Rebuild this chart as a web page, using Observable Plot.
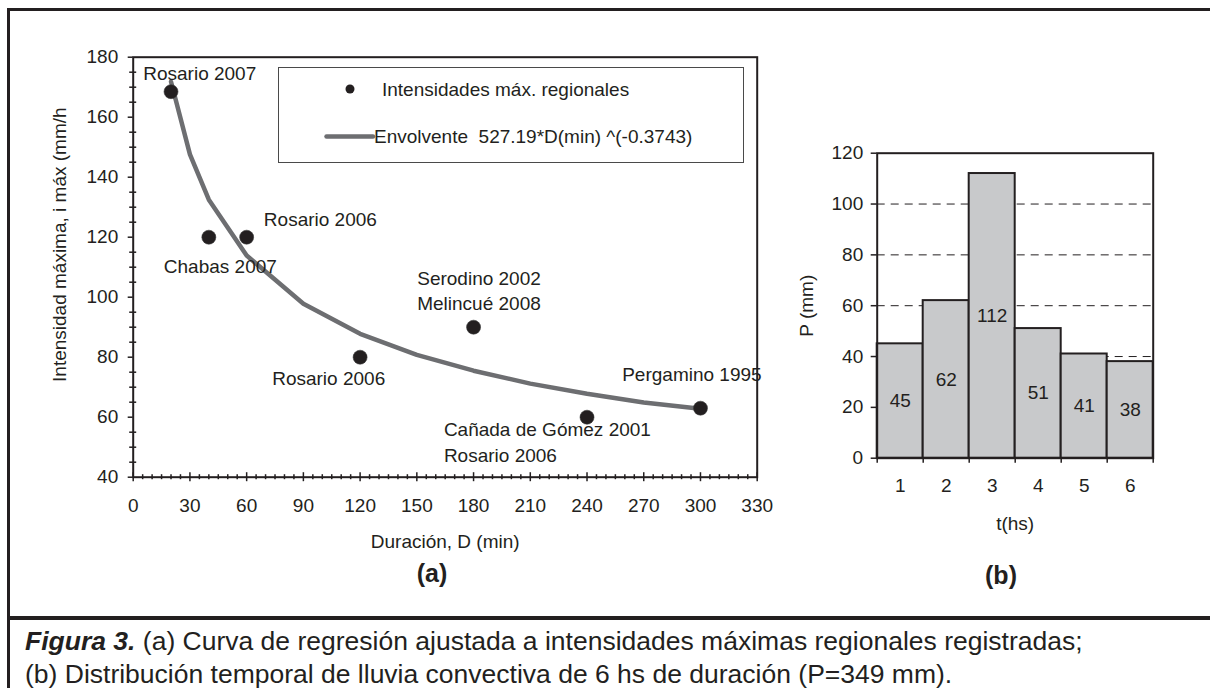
<!DOCTYPE html>
<html>
<head>
<meta charset="utf-8">
<script src="https://cdn.jsdelivr.net/npm/d3@7"></script>
<script src="https://cdn.jsdelivr.net/npm/@observablehq/plot@0.6"></script>
<style>
  body { margin: 0; background: #fff; }
  #root { position: relative; width: 1210px; height: 688px; overflow: hidden; background: #fff;
          font-family: "Liberation Sans", Arial, sans-serif; color: #231f20; }
  .abs { position: absolute; }
  .bar { position: absolute; background: #231f20; }
  .plab { position: absolute; font-weight: bold; font-size: 25px; transform: translate(-50%, -50%); white-space: nowrap; }
</style>
</head>
<body>
<div id="root">
  <div class="bar" style="left:7px;top:8px;width:1203px;height:3px;"></div>
  <div class="bar" style="left:7px;top:8px;width:2.5px;height:680px;"></div>
  <div class="bar" style="left:7px;top:616px;width:1203px;height:4px;"></div>
  <div id="chartA" class="abs" style="left:0;top:0;"></div>
  <div id="chartB" class="abs" style="left:780px;top:0;"></div>
  <div id="legend" class="abs" style="left:278px;top:67px;width:466px;height:96px;border:1.5px solid #4a4a4a;background:#fff;box-sizing:border-box;">
    <svg width="466" height="96" style="position:absolute;left:-1.5px;top:-1.5px;overflow:visible">
      <circle cx="72" cy="22" r="4.5" fill="#231f20"></circle>
      <line x1="48.5" y1="69.5" x2="95" y2="69.5" stroke="#6d6e71" stroke-width="4.5" stroke-linecap="round"></line>
    </svg>
    <div class="abs" style="left:103px;top:10px;font-size:19px;line-height:24px;white-space:pre;">Intensidades máx. regionales</div>
    <div class="abs" style="left:95px;top:57px;font-size:19px;line-height:24px;white-space:pre;">Envolvente  527.19*D(min) ^(-0.3743)</div>
  </div>
  <div class="plab" style="left:432px;top:573px;">(a)</div>
  <div class="plab" style="left:1001px;top:575px;">(b)</div>
  <div class="abs" style="left:25px;top:625px;font-size:26.5px;line-height:33px;white-space:nowrap;">
    <b><i>Figura 3.</i></b> (a) Curva de regresión ajustada a intensidades máximas regionales registradas;<br>(b) Distribución temporal de lluvia convectiva de 6 hs de duración (P=349 mm).
  </div>
</div>
<script>
// ---------- Data: chart (a) ----------
const xTicks = [0, 30, 60, 90, 120, 150, 180, 210, 240, 270, 300, 330];
const yTicks = [40, 60, 80, 100, 120, 140, 160, 180];
const pointD = [20, 40, 60, 120, 180, 240, 300];
const pointI = [168.5, 120, 120, 80, 90, 60, 63];
const curveD = [20, 30, 40, 60, 90, 120, 150, 180, 210, 240, 270, 300];
const curveI = [171.8, 147.6, 132.5, 113.9, 97.8, 87.8, 80.8, 75.5, 71.2, 67.8, 64.9, 62.8];
const labelText = ["Rosario 2007", "Rosario 2006", "Chabas 2007", "Rosario 2006", "Serodino 2002",
                   "Melincué 2008", "Pergamino 1995", "Cañada de Gómez 2001", "Rosario 2006"];
const labelD = [5.3, 69.1, 16.2, 73.5, 150.2, 150.2, 258.6, 164.3, 164.3];
const labelI = [174.5, 125.6, 110, 72.8, 106.1, 97.6, 74.2, 55.6, 47];
const xTitleA = "Duración, D (min)";
const yTitleA = "Intensidad máxima, i máx (mm/h";

// ---------- Data: chart (b) ----------
const hours = [1, 2, 3, 4, 5, 6];
const rain = [45, 62, 112, 51, 41, 38];
const bYTicks = [0, 20, 40, 60, 80, 100, 120];
const bGrid = [20, 40, 60, 80, 100];
const xTitleB = "t(hs)";
const yTitleB = "P (mm)";

const INK = "#231f20";
const font = {fontFamily: "'Liberation Sans', Arial, sans-serif", fontSize: "19px", color: INK, background: "transparent", overflow: "visible"};

const points = pointD.map((d, i) => ({d, v: pointI[i]}));
const curve = curveD.map((d, i) => ({d, v: curveI[i]}));
const labels = labelText.map((t, i) => ({t, d: labelD[i], v: labelI[i]}));
const xMinor = d3.range(0, 331, 5).filter(v => v % 30 !== 0);
const yMinor = d3.range(40, 181, 5).filter(v => v % 20 !== 0);
const blank = () => "";

const chartA = Plot.plot({
  width: 780, height: 600,
  marginLeft: 132.7, marginRight: 23.3, marginTop: 56.7, marginBottom: 123.3,
  style: font,
  x: {domain: [0, 330], label: null},
  y: {domain: [40, 180], label: null},
  marks: [
    Plot.line(curve, {x: "d", y: "v", stroke: "#6d6e71", strokeWidth: 4.5, strokeLinejoin: "round"}),
    Plot.dot(points, {x: "d", y: "v", r: 7, fill: INK, stroke: "#3a3a3a", strokeWidth: 0.6}),
    Plot.text(labels, {x: "d", y: "v", text: "t", textAnchor: "start", lineAnchor: "middle", fill: INK, fontSize: 19}),
    Plot.frame({stroke: INK, strokeWidth: 2}),
    Plot.axisY(yTicks, {anchor: "left", tickSize: 5, tickPadding: 10, strokeWidth: 1.5, label: null}),
    Plot.axisY(yMinor, {anchor: "left", tickSize: 7, dx: 3.5, tickFormat: blank, strokeWidth: 1.5, label: null}),
    Plot.axisX(xTicks, {anchor: "bottom", tickSize: 0, tickPadding: 21, label: null}),
    Plot.axisX(xTicks, {anchor: "bottom", tickSize: 9, dy: -4.5, tickFormat: blank, strokeWidth: 1.5, label: null}),
    Plot.axisX(xMinor, {anchor: "bottom", tickSize: 5, dy: -2.5, tickFormat: blank, strokeWidth: 1.5, label: null}),
    Plot.text([xTitleA], {text: d => d, frameAnchor: "bottom", dy: 65, textAnchor: "middle", lineAnchor: "middle", fill: INK, fontSize: 19}),
    Plot.text([yTitleA], {text: d => d, frameAnchor: "left", rotate: -90, dx: -73, dy: -22.5, textAnchor: "middle", lineAnchor: "middle", fill: INK, fontSize: 19})
  ]
});
document.getElementById("chartA").append(chartA);

const bars = hours.map((t, i) => ({t, p: rain[i]}));
const bBounds = d3.range(0.5, 7, 1);

const chartB = Plot.plot({
  width: 430, height: 600,
  marginLeft: 96.7, marginRight: 57.3, marginTop: 152.7, marginBottom: 142.3,
  style: font,
  x: {domain: [0.5, 6.5], label: null},
  y: {domain: [0, 120], label: null},
  marks: [
    Plot.gridY(bGrid, {stroke: INK, strokeOpacity: 1, strokeWidth: 1, strokeDasharray: "8,6"}),
    Plot.rectY(bars, {x1: d => d.t - 0.5, x2: d => d.t + 0.5, y1: 0, y2: "p", fill: "#c8c9cb", stroke: INK, strokeWidth: 2}),
    Plot.text(bars, {x: "t", y: d => d.p / 2, text: d => String(d.p), lineAnchor: "middle", fill: INK, fontSize: 19}),
    Plot.frame({stroke: INK, strokeWidth: 2}),
    Plot.axisY(bYTicks, {anchor: "left", tickSize: 6, tickPadding: 8, strokeWidth: 1.5, label: null}),
    Plot.axisX(hours, {anchor: "bottom", tickSize: 0, tickPadding: 20, label: null}),
    Plot.axisX(bBounds, {anchor: "bottom", tickSize: 5, tickFormat: blank, strokeWidth: 1.5, label: null}),
    Plot.text([xTitleB], {text: d => d, frameAnchor: "bottom", dy: 65.6, textAnchor: "middle", lineAnchor: "middle", fill: INK, fontSize: 19}),
    Plot.text([yTitleB], {text: d => d, frameAnchor: "left", rotate: -90, dx: -70.7, textAnchor: "middle", lineAnchor: "middle", fill: INK, fontSize: 19})
  ]
});
document.getElementById("chartB").append(chartB);
</script>
</body>
</html>
